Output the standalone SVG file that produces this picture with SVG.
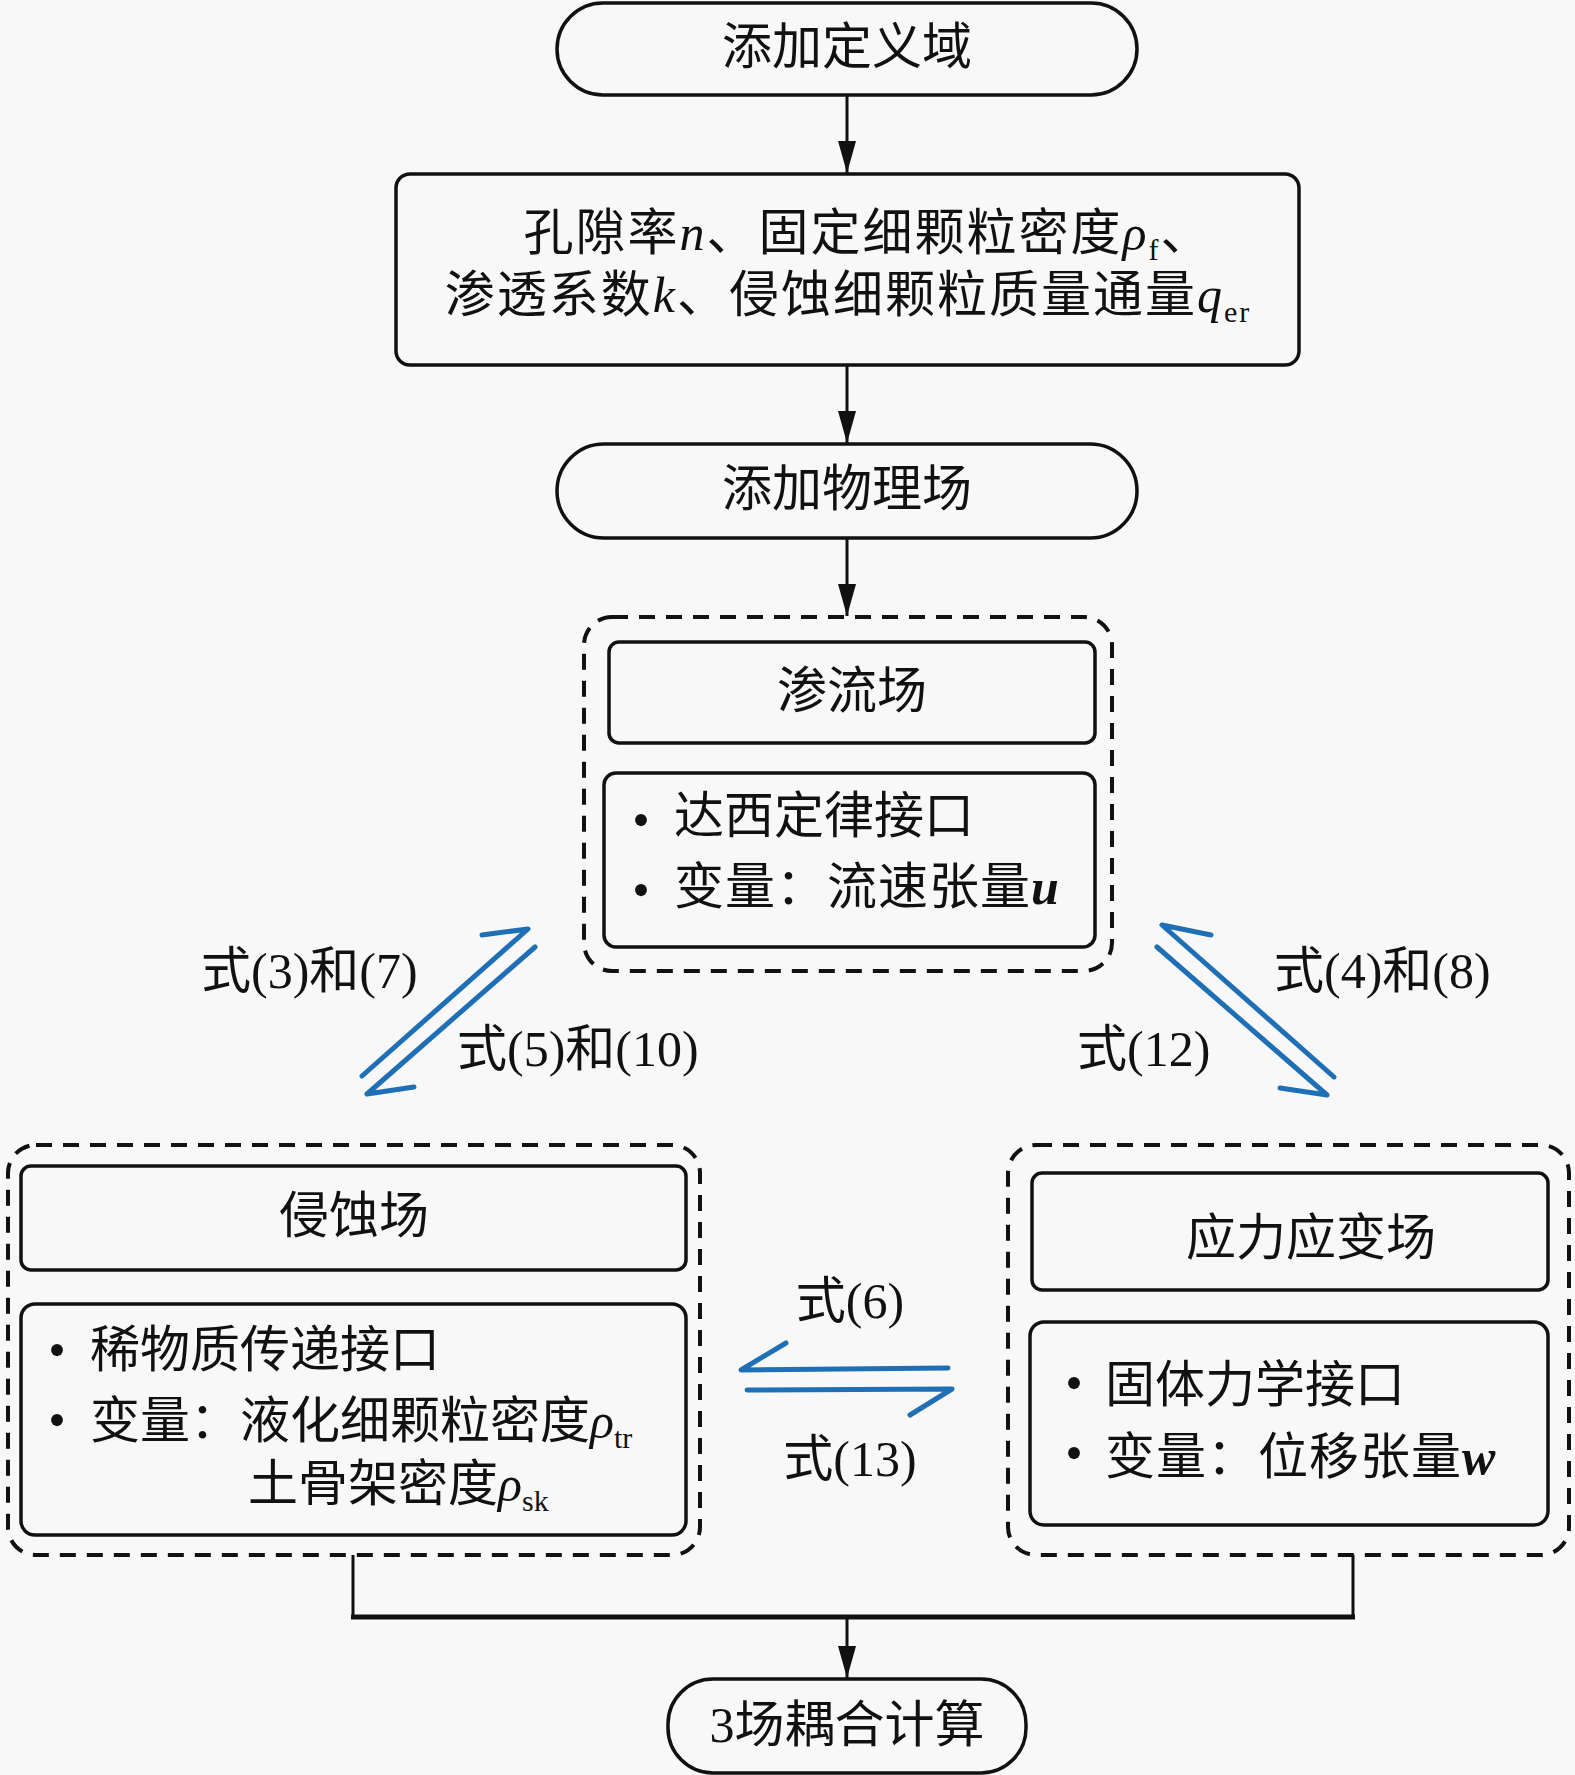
<svg xmlns="http://www.w3.org/2000/svg" width="1575" height="1775" viewBox="0 0 1575 1775">
<style>
 .t {font-family: "Liberation Serif", "Noto Sans CJK SC", serif; font-size: 50px; fill: #111;}
 .box {fill: none; stroke: #111; stroke-width: 3.5;}
 .pill {fill: none; stroke: #111; stroke-width: 3.5;}
 .dash {fill: none; stroke: #111; stroke-width: 4; stroke-dasharray: 16 11;}
 .conn {fill: none; stroke: #111; stroke-width: 3;}
 .blue {fill: none; stroke: #1f6fb6; stroke-width: 5; stroke-linecap: round; stroke-linejoin: round;}
 .it {font-style: italic;}
 .bi {font-style: italic; font-weight: bold;}
 .sub {font-size: 30px;}
 .wide {letter-spacing: 2px;}
</style>
<defs>
 <marker id="ah" markerUnits="userSpaceOnUse" markerWidth="34" markerHeight="18" refX="32" refY="9" orient="auto">
  <path d="M0,0 L32,9 L0,18 z" fill="#111"/>
 </marker>
</defs>
<rect x="0" y="0" width="1575" height="1775" fill="#f8f8f8"/>

<g id="n-domain">
 <rect class="pill" x="557" y="3" width="580" height="92" rx="46"/>
 <text class="t" x="847" y="64" text-anchor="middle">添加定义域</text>
</g>

<g id="n-params">
 <rect class="box" x="396" y="174" width="903" height="191" rx="14"/>
 <text class="t wide" x="868" y="250" text-anchor="middle">孔隙率<tspan class="it">n</tspan>、固定细颗粒密度<tspan class="it">ρ</tspan><tspan class="sub" dy="10">f</tspan><tspan dy="-10">、</tspan></text>
 <text class="t wide" x="848" y="312" text-anchor="middle">渗透系数<tspan class="it">k</tspan>、侵蚀细颗粒质量通量<tspan class="it">q</tspan><tspan class="sub" dy="10">er</tspan></text>
</g>

<g id="n-physics">
 <rect class="pill" x="557" y="444" width="580" height="94" rx="47"/>
 <text class="t" x="847" y="506" text-anchor="middle">添加物理场</text>
</g>

<g id="n-seepage">
 <rect class="dash" x="584" y="617" width="528" height="354" rx="28"/>
 <rect class="box" x="609" y="642" width="486" height="101" rx="10"/>
 <text class="t" x="852" y="708" text-anchor="middle">渗流场</text>
 <rect class="box" x="604" y="773" width="491" height="174" rx="12"/>
 <text class="t" x="641" y="837" text-anchor="middle">•</text>
 <text class="t" x="674" y="833">达西定律接口</text>
 <text class="t" x="641" y="907" text-anchor="middle">•</text>
 <text class="t" x="674" y="904" letter-spacing="1">变量：流速张量<tspan class="bi">u</tspan></text>
</g>

<g id="n-erosion">
 <rect class="dash" x="8" y="1145" width="692" height="410" rx="28"/>
 <rect class="box" x="21" y="1166" width="665" height="104" rx="10"/>
 <text class="t" x="354" y="1233" text-anchor="middle">侵蚀场</text>
 <rect class="box" x="21" y="1304" width="665" height="231" rx="14"/>
 <text class="t" x="57" y="1367" text-anchor="middle">•</text>
 <text class="t" x="90" y="1367">稀物质传递接口</text>
 <text class="t" x="57" y="1437" text-anchor="middle">•</text>
 <text class="t" x="90" y="1438">变量：液化细颗粒密度<tspan class="it">ρ</tspan><tspan class="sub" dy="10">tr</tspan></text>
 <text class="t" x="248" y="1501">土骨架密度<tspan class="it">ρ</tspan><tspan class="sub" dy="10">sk</tspan></text>
</g>

<g id="n-stress">
 <rect class="dash" x="1008" y="1145" width="561" height="410" rx="28"/>
 <rect class="box" x="1032" y="1173" width="516" height="117" rx="10"/>
 <text class="t" x="1311" y="1255" text-anchor="middle">应力应变场</text>
 <rect class="box" x="1030" y="1322" width="518" height="203" rx="14"/>
 <text class="t" x="1074" y="1400" text-anchor="middle">•</text>
 <text class="t" x="1105" y="1402">固体力学接口</text>
 <text class="t" x="1074" y="1470" text-anchor="middle">•</text>
 <text class="t" x="1105" y="1474" letter-spacing="1">变量：位移张量<tspan class="bi">w</tspan></text>
</g>

<g id="n-coupled">
 <rect class="pill" x="668" y="1679" width="358" height="94" rx="45"/>
 <text class="t" x="847" y="1742" text-anchor="middle">3场耦合计算</text>
</g>

<g id="connectors">
 <line class="conn" x1="847" y1="95" x2="847" y2="173" marker-end="url(#ah)"/>
 <line class="conn" x1="847" y1="365" x2="847" y2="443" marker-end="url(#ah)"/>
 <line class="conn" x1="847" y1="538" x2="847" y2="616" marker-end="url(#ah)"/>
 <path class="conn" d="M353,1555 L353,1617 M1353,1555 L1353,1617"/>
 <line x1="351" y1="1617" x2="1355" y2="1617" stroke="#111" stroke-width="5"/>
 <line class="conn" x1="847" y1="1617" x2="847" y2="1678" marker-end="url(#ah)"/>

 <path class="blue" d="M362,1076 L528,929 L482,935"/>
 <path class="blue" d="M535,947 L367,1094 L414,1087"/>
 <path class="blue" d="M1334,1077 L1162,925 L1211,935"/>
 <path class="blue" d="M1157,947 L1327,1095 L1280,1088"/>
 <path class="blue" d="M948,1368 L741,1370 L786,1343"/>
 <path class="blue" d="M747,1390 L952,1389 L910,1415"/>

 <text class="t" x="201" y="988">式(3)和(7)</text>
 <text class="t" x="457" y="1066">式(5)和(10)</text>
 <text class="t" x="1274" y="988">式(4)和(8)</text>
 <text class="t" x="1077" y="1066">式(12)</text>
 <text class="t" x="850" y="1318" text-anchor="middle">式(6)</text>
 <text class="t" x="850" y="1476" text-anchor="middle">式(13)</text>
</g>
</svg>
